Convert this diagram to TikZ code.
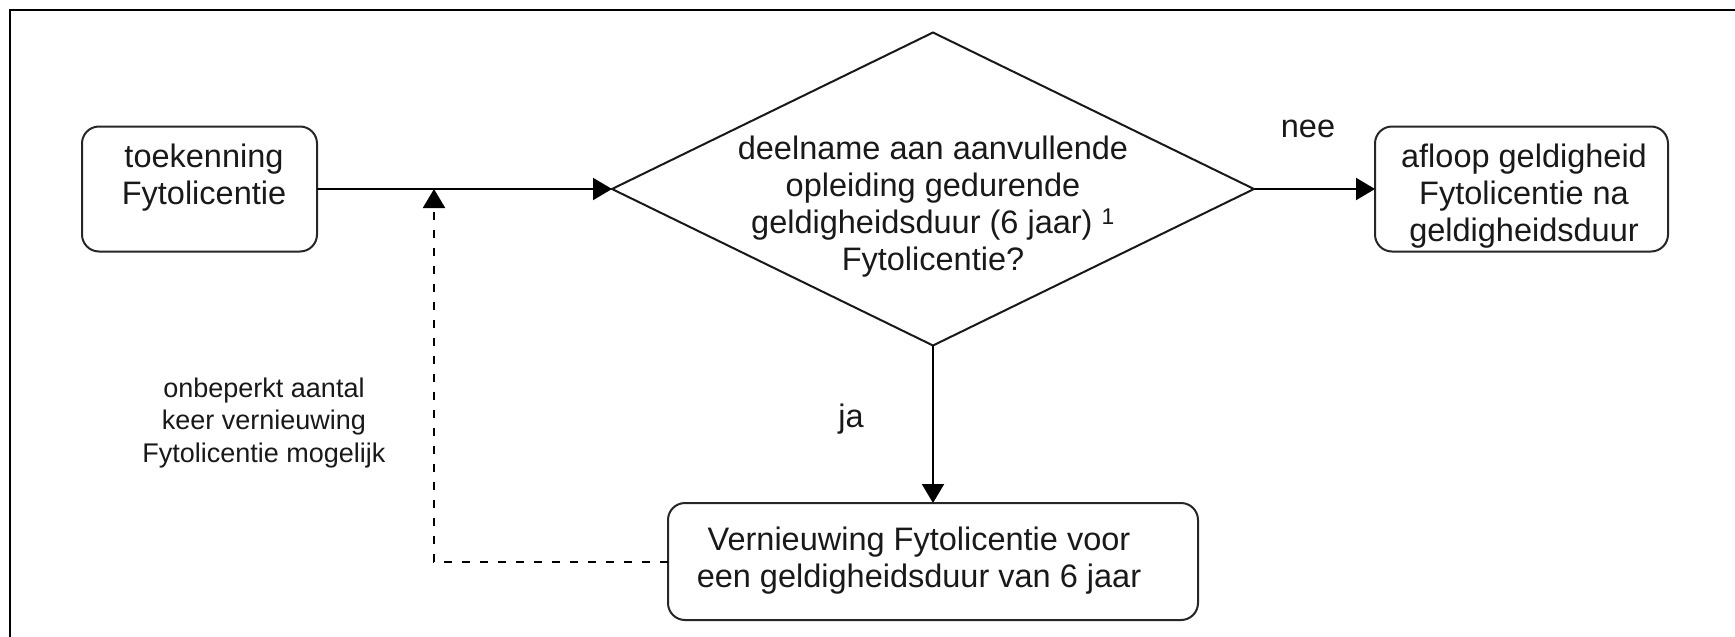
\documentclass[tikz,border=0pt]{standalone}
\usepackage{fontspec}
\setmainfont{Liberation Sans}
\usetikzlibrary{arrows.meta,shapes.geometric}
\begin{document}
\begin{tikzpicture}[x=1pt,y=-1pt,
  box/.style={rectangle, draw=black!85, line width=2pt, rounded corners=17pt, inner sep=0pt, outer sep=0pt},
  decstyle/.style={diamond, draw=black!90, line width=2pt, inner sep=0pt, outer sep=0pt},
  txt/.style={font=\fontsize{32.5}{37}\selectfont, align=center, inner sep=0pt, text=black!90},
  smalltxt/.style={font=\fontsize{27}{32.5}\selectfont, align=center, inner sep=0pt, text=black!90},
  arr/.style={line width=2pt, draw=black, -{Triangle[width=22pt,length=19pt]}},
  dasharr/.style={arr, dash pattern=on 8pt off 10pt}]
\useasboundingbox (0,0) rectangle (1735,637);
\fill[white] (0,0) rectangle (1735,637);
\draw[line width=2pt] (10,637) -- (10,10) -- (1735,10);

\node[box, minimum width=235pt, minimum height=125pt] (t1) at (199.5,189) {};
\node[txt] (t1t) at (204,178) {toekenning\\Fytolicentie};

\node[decstyle, minimum width=642pt, minimum height=313pt] (d) at (933,189) {};
\node[txt] (dt) at (933,207) {deelname aan aanvullende\\opleiding gedurende\\geldigheidsduur (6 jaar) \textsuperscript{1}\\Fytolicentie?};

\node[box, minimum width=293pt, minimum height=125pt] (af) at (1521.5,189) {};
\node[txt] (aft) at (1524,196) {afloop geldigheid\\Fytolicentie na\\geldigheidsduur};

\node[box, minimum width=530pt, minimum height=117pt] (vn) at (933,561.5) {};
\node[txt] (vnt) at (919,561) {Vernieuwing Fytolicentie voor\\een geldigheidsduur van 6 jaar};

\node[smalltxt] (lbl) at (264,423) {onbeperkt aantal\\keer vernieuwing\\Fytolicentie mogelijk};
\node[txt, anchor=base] (nee) at (1308,137) {nee};
\node[txt, anchor=base] (ja) at (851,427) {ja};

\coordinate (j) at (434,189);
\draw[arr] (t1.east) -- (d.west);
\draw[arr] (d.east) -- (af.west);
\draw[arr] (d.south) -- (vn.north);
\draw[dasharr] (vn.west) -| (j);
\end{tikzpicture}
\end{document}
